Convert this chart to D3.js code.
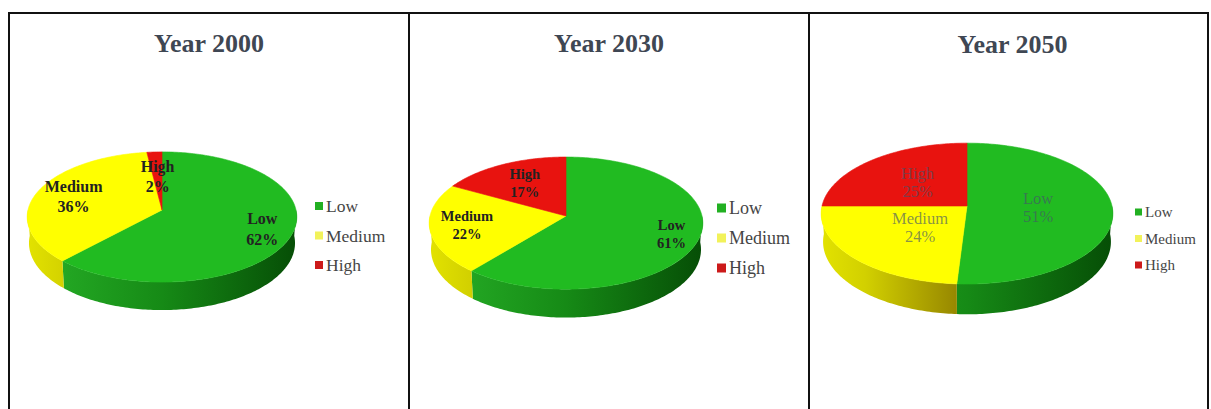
<!DOCTYPE html>
<html>
<head>
<meta charset="utf-8">
<script src="https://cdn.jsdelivr.net/npm/d3@7/dist/d3.min.js"></script>
<style>
  html, body { margin: 0; padding: 0; background: #ffffff; }
  svg { display: block; }
</style>
</head>
<body>
<svg id="chart" width="1211" height="409"></svg>
<script>
// ---------------- DATA ----------------
const categories = ["Low", "Medium", "High"];
const titles = ["Year 2000", "Year 2030", "Year 2050"];
const values2000 = [62, 36, 2];
const values2030 = [61, 22, 17];
const values2050 = [51, 24, 25];
const seriesValues = [values2000, values2030, values2050];

// ---------------- LAYOUT / STYLE ----------------
const topColors = ["#21bb21", "#ffff00", "#e8130f"];
const swatchColors = ["#22b022", "#f2f25a", "#cc1a1a"];
const sideStops = [
  [[0, "#2cb82c"], [0.15, "#22a522"], [0.5, "#168a16"], [1, "#064e06"]],
  [[0, "#e2e200"], [0.15, "#d2d000"], [0.48, "#948400"], [1, "#6a5e00"]],
  [[0, "#d01010"], [1, "#700000"]]
];

const panels = [
  { x0: 9,   x1: 409,  cx: 162, cy: 210, s: 134, titleY: 52,
    labelR: [0.78, 0.71, 0.55], labelFont: 16, labelBold: true, lineGap: 20.5,
    labelFill: "#222222", labelOpacity: 1,
    legend: { x: 315, y: 206, gap: 29.5, size: 8, font: 17.5 } },
  { x0: 409, x1: 809,  cx: 566, cy: 216, s: 136, titleY: 52,
    labelR: [0.80, 0.73, 0.63], labelFont: 14.5, labelBold: true, lineGap: 18,
    labelFill: "#222222", labelOpacity: 1,
    legend: { x: 717, y: 208, gap: 30, size: 9, font: 18 } },
  { x0: 809, x1: 1208, cx: 967, cy: 206, s: 145, titleY: 53,
    labelR: [0.49, 0.43, 0.50], labelFont: 16.5, labelBold: false, lineGap: 18,
    labelFill: "#44546a", labelOpacity: 0.65,
    legend: { x: 1135, y: 212, gap: 26.5, size: 7, font: 15 } }
];

// perspective 3D pie parameters
const TILT = 28.7 * Math.PI / 180;
const ST = Math.sin(TILT), CT = Math.cos(TILT);
const K = 0.1227;   // radius / camera distance
const H = 0.2235;   // thickness (in radius units)

const svg = d3.select("#chart");
const defs = svg.append("defs");

function proj(p, phi, rho, Y) {
  const X = rho * Math.sin(phi), Z = -rho * Math.cos(phi);
  const yc = Z * ST + Y * CT;
  const zc = 1 + K * (-Z * CT + Y * ST);
  return [p.cx + p.s * X / zc, p.cy + p.s * yc / zc];
}
function arcPts(p, a0, a1, Y) {
  const n = Math.max(2, Math.ceil((a1 - a0) / (Math.PI / 180)));
  return d3.range(n + 1).map(i => proj(p, a0 + (a1 - a0) * i / n, 1, Y));
}
const line = d3.line();
const pie = d3.pie().sort(null).value(d => d);

// ---------------- FRAME ----------------
const frame = svg.append("g").attr("stroke", "#111").attr("stroke-width", 2).attr("fill", "none");
frame.append("line").attr("x1", 8).attr("x2", 1209).attr("y1", 13).attr("y2", 13);
[9, 409, 809, 1208].forEach(x => {
  frame.append("line").attr("x1", x).attr("x2", x).attr("y1", 12).attr("y2", 409);
});

panels.forEach((p, pi) => {
  const g = svg.append("g");
  const arcs = pie(seriesValues[pi]);

  // gradients for side walls
  categories.forEach((c, ci) => {
    const gr = defs.append("linearGradient")
      .attr("id", `side${pi}_${ci}`)
      .attr("gradientUnits", "userSpaceOnUse")
      .attr("x1", p.cx - p.s).attr("x2", p.cx + p.s)
      .attr("y1", 0).attr("y2", 0);
    sideStops[ci].forEach(([o, col]) => gr.append("stop").attr("offset", o).attr("stop-color", col));
  });

  // title
  g.append("text")
    .attr("x", (p.x0 + p.x1) / 2 + (pi === 2 ? 4 : 0))
    .attr("y", p.titleY)
    .attr("text-anchor", "middle")
    .attr("font-family", "'Liberation Serif', 'Times New Roman', serif")
    .attr("font-weight", "bold")
    .attr("font-size", 26)
    .attr("fill", "#3f4753")
    .text(titles[pi]);

  // side walls (front half only)
  arcs.forEach((a, ci) => {
    const s0 = Math.max(a.startAngle, Math.PI / 2);
    const s1 = Math.min(a.endAngle, 3 * Math.PI / 2);
    if (s1 <= s0) return;
    const pts = arcPts(p, s0, s1, 0).concat(arcPts(p, s0, s1, H).reverse());
    g.append("path")
      .attr("d", line(pts) + "Z")
      .attr("fill", `url(#side${pi}_${ci})`);
  });

  // top faces
  arcs.forEach((a, ci) => {
    const pts = [proj(p, 0, 0, 0)].concat(arcPts(p, a.startAngle, a.endAngle, 0));
    g.append("path")
      .attr("d", line(pts) + "Z")
      .attr("fill", topColors[ci])
      .attr("stroke", topColors[ci])
      .attr("stroke-width", 0.6);
  });

  // data labels
  arcs.forEach((a, ci) => {
    const mid = (a.startAngle + a.endAngle) / 2;
    const [lx, ly] = proj(p, mid, p.labelR[ci], 0);
    const t = g.append("text")
      .attr("text-anchor", "middle")
      .attr("font-family", "'Liberation Serif', 'Times New Roman', serif")
      .attr("font-weight", p.labelBold ? "bold" : "normal")
      .attr("font-size", p.labelFont)
      .attr("fill", p.labelFill)
      .attr("fill-opacity", p.labelOpacity);
    t.append("tspan").attr("x", lx).attr("y", ly - p.lineGap / 2).attr("dy", "0.35em").text(categories[ci]);
    t.append("tspan").attr("x", lx).attr("y", ly + p.lineGap / 2).attr("dy", "0.35em").text(a.data + "%");
  });

  // legend
  const L = p.legend;
  categories.forEach((c, ci) => {
    const y = L.y + ci * L.gap;
    g.append("rect")
      .attr("x", L.x).attr("y", y - L.size / 2)
      .attr("width", L.size).attr("height", L.size)
      .attr("fill", swatchColors[ci]);
    g.append("text")
      .attr("x", L.x + L.size + 3).attr("y", y).attr("dy", "0.35em")
      .attr("font-family", "'Liberation Serif', 'Times New Roman', serif")
      .attr("font-size", L.font)
      .attr("fill", "#454545")
      .text(c);
  });
});
</script>
</body>
</html>
